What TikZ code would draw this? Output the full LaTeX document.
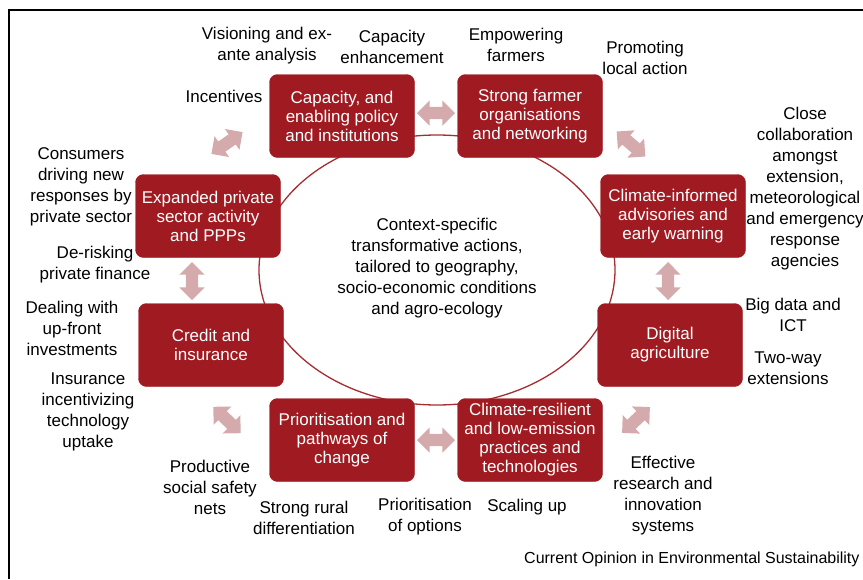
\documentclass[tikz,border=0pt]{standalone}
\usepackage{fontspec}
\setmainfont{Liberation Sans}
\usepackage{tikz}
\usetikzlibrary{shapes,arrows,positioning}
\definecolor{boxred}{RGB}{160,27,33}
\definecolor{arrowpink}{RGB}{212,170,172}
\definecolor{ringred}{RGB}{165,45,50}

\begin{document}
\begin{tikzpicture}[x=1pt, y=-1pt,
        box/.style={rectangle, fill=boxred, draw=boxred, minimum width=145pt, minimum height=83pt, inner sep=1pt, text=white, align=center, rounded corners=8pt, font=\fontsize{17}{19}\selectfont},
        lbl/.style={align=center, inner sep=0pt, font=\fontsize{17}{21}\selectfont},
        dbl/.style={double arrow, fill=arrowpink, draw=none, inner sep=6pt, minimum height=38pt, minimum width=25pt, double arrow head extend=6.5pt, double arrow head indent=0pt},
    ]
        \useasboundingbox (0,0) rectangle (863,579);
        % frame (left and top only)
        \coordinate (fbl) at (9,579);
        \coordinate (ftl) at (9,10);
        \coordinate (ftr) at (863,10);
        \draw[line width=1.3pt] (fbl) -- (ftl) -- (ftr);

        % ring behind the boxes
        \node[draw=ringred, line width=1.3pt, ellipse, minimum width=356pt, minimum height=270pt, inner sep=0pt] (ring) at (437,270) {};
        \node[lbl] (context) at (437,268) {Context-specific\\transformative actions,\\tailored to geography,\\socio-economic conditions\\and agro-ecology};

        % the eight boxes
        \node[box] (policy) at (342,116) {Capacity, and\\enabling policy\\and institutions};
        \node[box] (farmer) at (530,116) {Strong farmer\\organisations\\and networking};
        \node[box] (advis) at (673,216) {Climate-informed\\advisories and\\early warning};
        \node[box] (digital) at (670,345) {Digital\\agriculture};
        \node[box] (practice) at (530,440) {Climate-resilient\\and low-emission\\practices and\\technologies};
        \node[box] (prior) at (342,440) {Prioritisation and\\pathways of\\change};
        \node[box] (credit) at (211,345) {Credit and\\insurance};
        \node[box] (private) at (208,216) {Expanded private\\sector activity\\and PPPs};

        % double arrows between neighbours
        \node[dbl] (a12) at (436,113) {};
        \node[dbl, rotate=-41] (a23) at (631,144) {};
        \node[dbl, rotate=90] (a34) at (668,281) {};
        \node[dbl, rotate=43] (a45) at (636,420) {};
        \node[dbl] (a56) at (436,440) {};
        \node[dbl, rotate=-44] (a67) at (227,420) {};
        \node[dbl, rotate=90] (a78) at (192,281) {};
        \node[dbl, rotate=35] (a81) at (227,143) {};

        % outside labels
        \node[lbl] (vision) at (267,46) {Visioning and ex-\\ante analysis};
        \node[lbl] (capenh) at (392,47) {Capacity\\enhancement};
        \node[lbl] (empower) at (516,45) {Empowering\\farmers};
        \node[lbl] (promote) at (645,58) {Promoting\\local action};
        \node[lbl] (incent) at (224,96) {Incentives};
        \node[lbl] (collab) at (805,189) {Close\\collaboration\\amongst\\extension,\\meteorological\\and emergency\\response\\agencies};
        \node[lbl] (consum) at (81,187) {Consumers\\driving new\\responses by\\private sector};
        \node[lbl] (derisk) at (95,265) {De-risking\\private finance};
        \node[lbl] (upfront) at (72,328) {Dealing with\\up-front\\investments};
        \node[lbl] (insur) at (88,412) {Insurance\\incentivizing\\technology\\uptake};
        \node[lbl] (bigdata) at (793,315) {Big data and\\ICT};
        \node[lbl] (twoway) at (788,368) {Two-way\\extensions};
        \node[lbl] (research) at (663,496) {Effective\\research and\\innovation\\systems};
        \node[lbl] (safety) at (210,487) {Productive\\social safety\\nets};
        \node[lbl] (rural) at (304,518) {Strong rural\\differentiation};
        \node[lbl] (options) at (425,517) {Prioritisation\\of options};
        \node[lbl] (scaling) at (527,507) {Scaling up};
        \node[lbl, anchor=base west, font=\fontsize{16}{19}\selectfont] (journal) at (524,563) {Current Opinion in Environmental Sustainability};
    \end{tikzpicture}
\end{document}
